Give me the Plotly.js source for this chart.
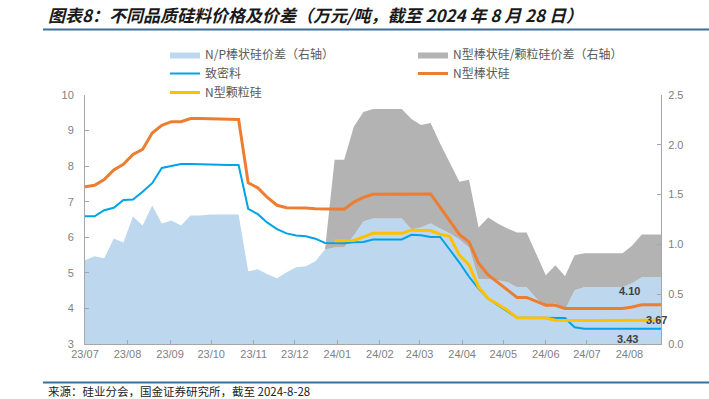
<!DOCTYPE html>
<html><head><meta charset="utf-8">
<script src="https://cdn.plot.ly/plotly-3.0.1.min.js"></script>
<style>html,body{margin:0;padding:0;background:#fff}#chart{width:709px;height:399px}</style>
</head><body><div id="chart"></div>
<script>
// Weekly dates (Wednesdays)
const dates = [
 '2023-07-05','2023-07-12','2023-07-19','2023-07-26','2023-08-02','2023-08-09','2023-08-16','2023-08-23','2023-08-30',
 '2023-09-06','2023-09-13','2023-09-20','2023-09-27','2023-10-04','2023-10-11','2023-10-18','2023-10-25',
 '2023-11-01','2023-11-08','2023-11-15','2023-11-22','2023-11-29','2023-12-06','2023-12-13','2023-12-20','2023-12-27',
 '2024-01-03','2024-01-10','2024-01-17','2024-01-24','2024-01-31','2024-02-07','2024-02-14','2024-02-21','2024-02-28',
 '2024-03-06','2024-03-13','2024-03-20','2024-03-27','2024-04-03','2024-04-10','2024-04-17','2024-04-24',
 '2024-05-01','2024-05-08','2024-05-15','2024-05-22','2024-05-29','2024-06-05','2024-06-12','2024-06-19','2024-06-26',
 '2024-07-03','2024-07-10','2024-07-17','2024-07-24','2024-07-31','2024-08-07','2024-08-14','2024-08-21','2024-08-28'
];
// N/P棒状硅价差（右轴）
const npSpread = [
 0.84,0.88,0.86,1.06,1.02,1.28,1.19,1.39,1.21,
 1.24,1.19,1.29,1.29,1.30,1.30,1.30,1.30,
 0.73,0.75,0.70,0.66,0.72,0.77,0.78,0.83,0.95,
 0.97,0.97,1.09,1.23,1.26,1.26,1.26,1.26,1.15,
 1.17,1.21,1.16,1.11,1.05,0.97,0.65,0.65,
 0.64,0.62,0.57,0.57,0.46,0.37,0.41,0.34,0.54,
 0.57,0.57,0.57,0.57,0.57,0.61,0.67,0.67,0.67
];
// N型棒状硅/颗粒硅价差（右轴）
const rodGranSpread = [
 null,null,null,null,null,null,null,null,null,
 null,null,null,null,null,null,null,null,
 null,null,null,null,null,null,null,null,null,
 0.88,0.88,1.09,1.10,1.10,1.10,1.10,1.10,1.11,
 1.03,1.01,0.85,0.71,0.58,0.68,0.52,0.62,
 0.57,0.54,0.55,0.55,0.45,0.32,0.38,0.34,0.35,
 0.34,0.34,0.34,0.34,0.34,0.38,0.43,0.43,0.43
];
// 致密料
const dense = [
 6.59,6.59,6.76,6.83,7.05,7.06,7.28,7.52,7.95,
 8.01,8.06,8.06,8.06,8.05,8.04,8.03,8.03,
 6.80,6.65,6.41,6.23,6.11,6.05,6.03,5.96,5.84,
 5.83,5.83,5.86,5.87,5.94,5.94,5.94,5.94,6.07,
 6.06,6.01,6.01,5.65,5.29,4.89,4.56,4.27,
 4.09,3.91,3.74,3.74,3.74,3.74,3.74,3.73,3.47,
 3.43,3.43,3.43,3.43,3.43,3.43,3.43,3.43,3.43
];
// N型棒状硅
const nRod = [
 7.42,7.46,7.62,7.89,8.05,8.33,8.47,8.93,9.15,
 9.25,9.25,9.34,9.34,9.33,9.32,9.31,9.31,
 7.53,7.39,7.12,6.90,6.83,6.83,6.82,6.80,6.79,
 6.79,6.79,6.99,7.12,7.21,7.21,7.21,7.21,7.22,
 7.22,7.22,6.84,6.46,6.08,5.87,5.27,4.94,
 4.73,4.52,4.31,4.31,4.20,4.09,4.09,4.00,4.00,
 4.00,4.00,4.00,4.00,4.00,4.04,4.10,4.10,4.10
];
// N型颗粒硅
const nGranular = [
 null,null,null,null,null,null,null,null,null,
 null,null,null,null,null,null,null,null,
 null,null,null,null,null,null,null,null,null,
 5.90,5.90,5.91,6.01,6.11,6.11,6.11,6.11,6.20,
 6.20,6.19,6.09,6.02,5.50,5.22,4.60,4.28,
 4.12,3.95,3.74,3.74,3.74,3.73,3.67,3.66,3.66,
 3.66,3.66,3.66,3.66,3.66,3.66,3.67,3.67,3.67
];
const names = ['N/P棒状硅价差（右轴）','N型棒状硅/颗粒硅价差（右轴）','致密料','N型棒状硅','N型颗粒硅'];
const colors = ['#BDD7EE','#B3B3B3','#00A2E8','#ED7D31','#FFC000'];

const traces = [
 {x:dates,y:npSpread,name:names[0],type:'scatter',mode:'lines',stackgroup:'sp',line:{width:0,color:colors[0]},fillcolor:colors[0],yaxis:'y',hoverinfo:'skip'},
 {x:dates,y:rodGranSpread,name:names[1],type:'scatter',mode:'lines',stackgroup:'sp',line:{width:0,color:colors[1]},fillcolor:colors[1],yaxis:'y',hoverinfo:'skip'},
 {x:dates,y:dense,name:names[2],type:'scatter',mode:'lines',line:{width:2,color:colors[2]},yaxis:'y2'},
 {x:dates,y:nRod,name:names[3],type:'scatter',mode:'lines',line:{width:3,color:colors[3]},yaxis:'y2'},
 {x:dates,y:nGranular,name:names[4],type:'scatter',mode:'lines',line:{width:3,color:colors[4]},yaxis:'y2'}
];

const last = dates.length-1;
const axisCol = '#A6A6A6';
const tickFont = {family:'Liberation Sans, Arial, sans-serif',size:11,color:'#7F7F7F'};
const PL=85, PR=661, PT=95, PB=344;
const px = v => (v-PL)/(PR-PL);
const py = v => (PB-v)/(PB-PT);

const layout = {
 width:709,height:399,
 margin:{l:PL,r:709-PR,t:PT,b:399-PB,autoexpand:false},
 paper_bgcolor:'#ffffff',plot_bgcolor:'rgba(0,0,0,0)',
 font:{family:'Noto Sans CJK SC, sans-serif',size:11,color:'#595959'},
 title:{text:'图表8：不同品质硅料价格及价差（万元/吨，截至 2024 年 8 月 28 日）',x:48/709,xanchor:'left',y:1-16/399,yanchor:'middle',
   font:{family:'Noto Sans CJK SC',size:17,color:'#1a1a1a',weight:'bold',style:'italic'}},
 showlegend:true,
 legend:{orientation:'h',xref:'container',yref:'container',x:165/709,y:1-40/399,xanchor:'left',yanchor:'top',
   entrywidth:203,entrywidthmode:'pixels',traceorder:'normal',bgcolor:'rgba(0,0,0,0)',
   font:{family:'Noto Sans CJK SC',size:12,color:'#595959'}},
 xaxis:{type:'date',range:[dates[0],dates[last]],tick0:'2023-07-05',dtick:'M1',tickformat:'%y/%m',
   ticks:'inside',ticklen:4,tickcolor:axisCol,showline:true,linecolor:axisCol,linewidth:1,showgrid:false,zeroline:false,tickfont:tickFont,fixedrange:true},
 yaxis:{range:[0,2.5],dtick:0.5,tickformat:'.1f',side:'right',ticks:'inside',ticklen:4,tickcolor:axisCol,showline:true,linecolor:axisCol,
   showgrid:false,zeroline:false,tickfont:tickFont,fixedrange:true,ticklabelstandoff:4},
 yaxis2:{range:[3,10],dtick:1,overlaying:'y',side:'left',ticks:'inside',ticklen:4,tickcolor:axisCol,showline:true,linecolor:axisCol,
   showgrid:false,zeroline:false,tickfont:tickFont,fixedrange:true,ticklabelstandoff:8},
 shapes:[
  {type:'line',xref:'paper',yref:'paper',x0:px(43),x1:px(709),y0:py(29.5),y1:py(29.5),line:{color:'#3D6F97',width:2}},
  {type:'line',xref:'paper',yref:'paper',x0:px(43),x1:px(709),y0:py(382.5),y1:py(382.5),line:{color:'#3D6F97',width:2}}
 ],
 annotations:[
  {x:dates[57],y:nRod[last],xref:'x',yref:'y2',text:'<b>'+nRod[last].toFixed(2)+'</b>',showarrow:false,xshift:-3,yshift:14,font:{family:'Liberation Sans, Arial',size:11,color:'#404040'}},
  {x:dates[last],y:nGranular[last],xref:'x',yref:'y2',text:'<b>'+nGranular[last].toFixed(2)+'</b>',showarrow:false,xshift:-5,yshift:0,font:{family:'Liberation Sans, Arial',size:11,color:'#404040'}},
  {x:dates[57],y:dense[last],xref:'x',yref:'y2',text:'<b>'+dense[last].toFixed(2)+'</b>',showarrow:false,xshift:-5,yshift:-10,font:{family:'Liberation Sans, Arial',size:11,color:'#404040'}},
  {x:px(46),y:py(391),xref:'paper',yref:'paper',xanchor:'left',yanchor:'middle',showarrow:false,
   text:'来源：硅业分会，国金证券研究所，截至 2024-8-28',font:{family:'Noto Sans CJK SC',size:11.5,color:'#222'}}
 ]
};
Plotly.newPlot('chart',traces,layout,{displayModeBar:false,staticPlot:true});
</script></body></html>
